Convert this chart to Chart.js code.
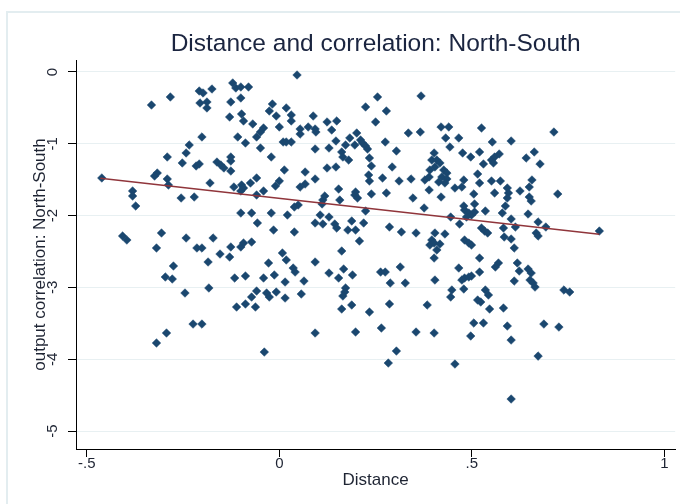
<!DOCTYPE html>
<html>
<head>
<meta charset="utf-8">
<script src="https://cdn.jsdelivr.net/npm/chart.js@4.4.0/dist/chart.umd.min.js"></script>
<style>
html, body { margin: 0; padding: 0; background: #fff; }
#wrap { width: 680px; height: 504px; }
</style>
</head>
<body>
<div id="wrap"><canvas id="chart" width="680" height="504"></canvas></div>
<script>
// Distance (x) and output correlation: North-South (y)
const distance = [
  -0.332,-0.283,-0.208,-0.198,-0.175,-0.121,-0.113,-0.100,-0.080,-0.206,
  -0.188,-0.188,-0.126,-0.100,-0.129,-0.098,-0.093,-0.069,-0.041,-0.049,
  -0.059,-0.026,-0.201,-0.108,-0.088,-0.049,-0.234,-0.242,-0.291,-0.252,
  -0.216,-0.208,-0.162,-0.152,-0.144,-0.126,-0.126,-0.126,-0.317,-0.324,
  -0.291,-0.288,-0.180,-0.118,-0.098,-0.093,-0.100,-0.075,-0.059,-0.461,
  -0.381,0.046,-0.018,0.018,-0.008,0.031,0.031,0.000,0.054,0.054,
  0.075,0.088,0.093,0.095,0.124,0.149,0.136,0.147,0.010,0.018,
  0.031,0.093,0.129,-0.021,0.013,0.067,0.093,0.000,-0.010,0.054,
  0.067,0.154,0.124,0.147,0.162,0.165,0.180,0.172,0.183,0.196,
  0.201,0.211,0.216,0.224,0.229,0.234,0.239,0.224,0.255,0.278,
  0.250,0.275,0.304,0.232,0.234,0.268,0.293,0.311,0.342,0.335,
  0.366,0.368,0.378,0.389,0.391,0.396,0.402,0.198,0.239,0.278,
  0.389,0.420,0.440,0.525,0.713,0.432,0.466,0.443,0.553,0.602,
  0.476,0.497,0.520,0.530,0.551,0.559,0.571,0.556,0.641,0.662,
  0.677,0.409,0.417,0.404,0.427,0.435,0.422,0.435,0.430,0.414,
  0.479,0.456,0.474,0.515,0.520,0.551,0.574,0.592,0.595,0.656,
  0.649,0.625,0.505,0.559,0.723,-0.381,-0.373,-0.255,-0.221,-0.100,
  -0.072,-0.057,-0.407,-0.396,-0.306,-0.319,-0.242,-0.214,-0.201,-0.172,
  -0.185,-0.154,-0.129,-0.126,-0.100,-0.093,-0.072,-0.275,-0.296,-0.278,
  -0.245,-0.183,-0.116,-0.088,-0.041,-0.028,-0.059,-0.072,-0.088,-0.062,
  -0.111,-0.033,-0.059,-0.041,-0.021,0.021,-0.015,0.039,0.049,0.039,
  0.113,0.118,0.111,0.157,0.196,0.203,0.347,0.376,0.106,0.129,
  0.093,0.113,0.144,0.149,0.188,0.219,0.178,0.198,0.208,0.224,
  0.286,0.317,0.355,0.396,0.391,0.402,0.404,0.402,0.008,0.018,
  0.036,0.041,-0.013,0.015,0.064,0.093,0.162,0.129,0.154,0.167,
  0.190,0.263,0.275,0.314,0.288,0.327,-0.026,-0.008,0.015,0.057,
  0.172,0.170,0.165,0.188,0.162,0.234,0.286,0.384,0.404,0.420,
  0.507,0.479,0.481,0.492,0.499,0.507,0.486,0.535,0.592,0.587,
  0.579,0.602,0.649,0.654,0.646,0.445,0.468,0.672,0.692,0.525,
  0.533,0.541,0.582,0.613,0.667,0.672,0.831,0.430,0.417,0.409,
  0.481,0.492,0.499,0.584,0.602,0.610,0.520,0.618,0.569,0.561,
  0.623,0.646,0.654,0.466,0.520,0.481,0.492,0.499,0.474,0.610,
  0.651,0.659,0.664,0.448,0.445,0.479,0.535,0.543,0.739,0.754,
  0.515,0.523,0.546,0.582,-0.319,-0.293,-0.224,-0.201,-0.039,0.093,
  0.198,0.265,0.304,0.283,0.355,0.402,0.505,0.530,0.497,0.592,
  0.602,0.687,0.726,0.456,0.672,0.602
];
const correlation = [
  -0.460,-0.348,-0.265,-0.292,-0.237,-0.153,-0.223,-0.209,-0.209,-0.432,
  -0.418,-0.501,-0.418,-0.362,-0.627,-0.585,-0.682,-0.724,-0.780,-0.836,
  -0.905,-0.543,-0.905,-0.905,-0.989,-1.059,-1.017,-1.128,-1.184,-1.267,
  -1.309,-1.281,-1.254,-1.295,-1.337,-1.184,-1.240,-1.379,-1.407,-1.449,
  -1.490,-1.574,-1.546,-1.602,-1.574,-1.616,-1.657,-1.546,-1.476,-1.476,
  -1.657,-0.042,-0.446,-0.501,-0.613,-0.599,-0.682,-0.766,-0.794,-0.864,
  -0.766,-0.613,-0.794,-0.836,-0.696,-0.682,-0.808,-0.961,-0.975,-0.975,
  -0.975,-1.072,-1.059,-1.184,-1.365,-1.393,-1.490,-1.518,-1.588,-1.602,
  -1.560,-1.630,-1.337,-1.323,-1.114,-1.184,-1.226,-1.017,-0.919,-1.017,
  -0.850,-0.947,-0.989,-1.031,-1.072,-1.198,-1.309,-0.487,-0.348,-0.543,
  -0.696,-0.975,-1.100,-1.435,-1.518,-1.476,-1.323,-1.518,-1.490,-0.850,
  -0.836,-0.334,-1.504,-1.462,-1.365,-1.226,-1.128,-1.671,-1.699,-1.685,
  -1.643,-0.766,-0.766,-0.780,-0.836,-0.919,-0.919,-1.045,-0.975,-0.961,
  -1.128,-1.184,-1.114,-1.281,-1.226,-1.184,-1.142,-1.267,-1.198,-1.114,
  -1.281,-1.226,-1.267,-1.323,-1.365,-1.407,-1.462,-1.490,-1.546,-1.532,
  -1.504,-1.616,-1.602,-1.421,-1.546,-1.518,-1.518,-1.616,-1.685,-1.504,
  -1.602,-1.657,-1.699,-1.685,-1.699,-1.727,-1.866,-1.755,-1.741,-1.964,
  -1.964,-2.103,-2.284,-2.340,-2.242,-2.451,-2.312,-2.451,-2.451,-2.312,
  -2.646,-2.535,-2.577,-2.437,-2.437,-2.382,-2.368,-2.702,-2.855,-2.883,
  -3.078,-3.008,-2.869,-2.841,-2.869,-2.660,-3.050,-3.134,-3.231,-3.273,
  -3.273,-3.078,-1.713,-1.657,-1.964,-1.992,-2.201,-2.228,-1.852,-1.880,
  -1.783,-1.727,-1.838,-1.783,-1.713,-1.755,-1.755,-1.894,-1.992,-2.020,
  -2.103,-2.117,-2.117,-2.173,-2.075,-2.103,-2.201,-2.201,-2.354,-1.936,
  -2.159,-2.228,-2.242,-2.340,-2.410,-2.382,-2.242,-2.591,-2.521,-2.618,
  -2.730,-2.786,-2.827,-2.925,-2.911,-2.646,-2.493,-2.800,-2.869,-2.744,
  -2.827,-2.786,-2.786,-2.716,-2.939,-2.939,-3.134,-3.064,-3.148,-3.092,
  -3.008,-3.064,-3.120,-3.245,-3.301,-3.343,-3.231,-3.245,-2.897,-1.741,
  -1.838,-1.866,-1.922,-1.964,-1.992,-1.950,-2.020,-1.936,-1.755,-1.866,
  -1.964,-2.047,-1.741,-1.797,-1.978,-2.020,-2.117,-2.089,-2.159,-2.173,
  -2.215,-2.242,-2.173,-2.159,-2.242,-2.284,-2.215,-2.256,-2.396,-2.479,
  -2.340,-2.382,-2.410,-2.298,-2.326,-2.451,-2.591,-2.660,-2.660,-2.716,
  -2.772,-2.744,-2.800,-2.730,-2.786,-2.869,-2.855,-2.841,-2.897,-2.911,
  -2.897,-2.939,-2.995,-3.036,-3.134,-3.022,-3.036,-3.106,-3.036,-3.064,
  -3.176,-3.203,-3.301,-3.287,-3.774,-3.635,-3.510,-3.510,-3.900,-3.635,
  -3.621,-3.566,-3.886,-4.053,-3.621,-3.635,-3.496,-3.496,-3.677,-3.538,
  -3.733,-3.510,-3.552,-4.067,-3.956,-4.554
];

// linear fit line (ends at the data range)
const fitX = [-0.465, 0.831];
const fitY = [-1.48, -2.26];

const xTicks = [-0.5, 0, 0.5, 1];
const yTicks = [0, -1, -2, -3, -4, -5];

const FONT = '"Liberation Sans", Arial, sans-serif';
const TEXT = '#1e2433';

function stataNum(v) {
    if (v === 0) return '0';
    const s = String(Math.abs(v)).replace(/^0\./, '.');
    return (v < 0 ? '-' : '') + s;
}

// thin light window frame round the graph
const framePlugin = {
    id: 'frame',
    beforeDraw(chart) {
        const c = chart.ctx;
        c.save();
        c.strokeStyle = '#e3edf0';
        c.lineWidth = 2;
        c.beginPath();
        c.moveTo(7, chart.height);
        c.lineTo(7, 12);
        c.lineTo(chart.width, 12);
        c.stroke();
        c.restore();
    }
};

const points = distance.map((d, i) => ({ x: d, y: correlation[i] }));
const fitPoints = fitX.map((d, i) => ({ x: d, y: fitY[i] }));

const ctx = document.getElementById('chart').getContext('2d');
new Chart(ctx, {
    type: 'scatter',
    data: {
        datasets: [{
            label: 'Fitted values',
            type: 'line',
            data: fitPoints,
            borderColor: '#90353b',
            borderWidth: 1.5,
            pointRadius: 0,
            fill: false,
            order: 0
        }, {
            label: 'output correlation: North-South',
            data: points,
            pointStyle: 'rectRot',
            pointRadius: 4.3,
            backgroundColor: '#1a476f',
            borderColor: '#1a476f',
            borderWidth: 0.5,
            order: 1
        }]
    },
    options: {
        responsive: false,
        animation: false,
        layout: { padding: 0 },
        plugins: {
            legend: { display: false },
            tooltip: { enabled: false },
            title: {
                display: true,
                text: 'Distance and correlation: North-South',
                color: '#1b2540',
                font: { family: FONT, size: 24.5, weight: 'normal' },
                padding: { top: 30, bottom: 0.6 },
                fullSize: false
            }
        },
        scales: {
            x: {
                type: 'linear',
                min: -0.528,
                max: 1.028,
                afterBuildTicks: s => { s.ticks = xTicks.map(v => ({ value: v })); },
                afterFit: s => { s.height = 55; },
                ticks: {
                    color: TEXT,
                    font: { family: FONT, size: 15 },
                    padding: -2,
                    callback: v => stataNum(v)
                },
                grid: { drawOnChartArea: false, tickLength: 8, tickColor: '#000', tickWidth: 1 },
                border: { color: '#000', width: 1 },
                title: {
                    display: true,
                    text: 'Distance',
                    color: TEXT,
                    font: { family: FONT, size: 17 },
                    padding: { top: 0, bottom: 13 }
                }
            },
            y: {
                type: 'linear',
                min: -5.25,
                max: 0.167,
                afterBuildTicks: s => { s.ticks = yTicks.map(v => ({ value: v })); },
                afterFit: s => { s.width = 76; },
                ticks: {
                    color: TEXT,
                    font: { family: FONT, size: 15 },
                    minRotation: 90,
                    maxRotation: 90,
                    crossAlign: 'center',
                    padding: 8.5,
                    callback: v => stataNum(v)
                },
                grid: { color: '#e8f0f2', lineWidth: 1, tickLength: 8, tickColor: '#000', tickWidth: 1 },
                border: { color: '#000', width: 1 },
                title: {
                    display: true,
                    text: 'output correlation: North-South',
                    color: TEXT,
                    font: { family: FONT, size: 17 },
                    padding: { top: 30, bottom: 0 }
                }
            }
        }
    },
    plugins: [framePlugin]
});
</script>
</body>
</html>
